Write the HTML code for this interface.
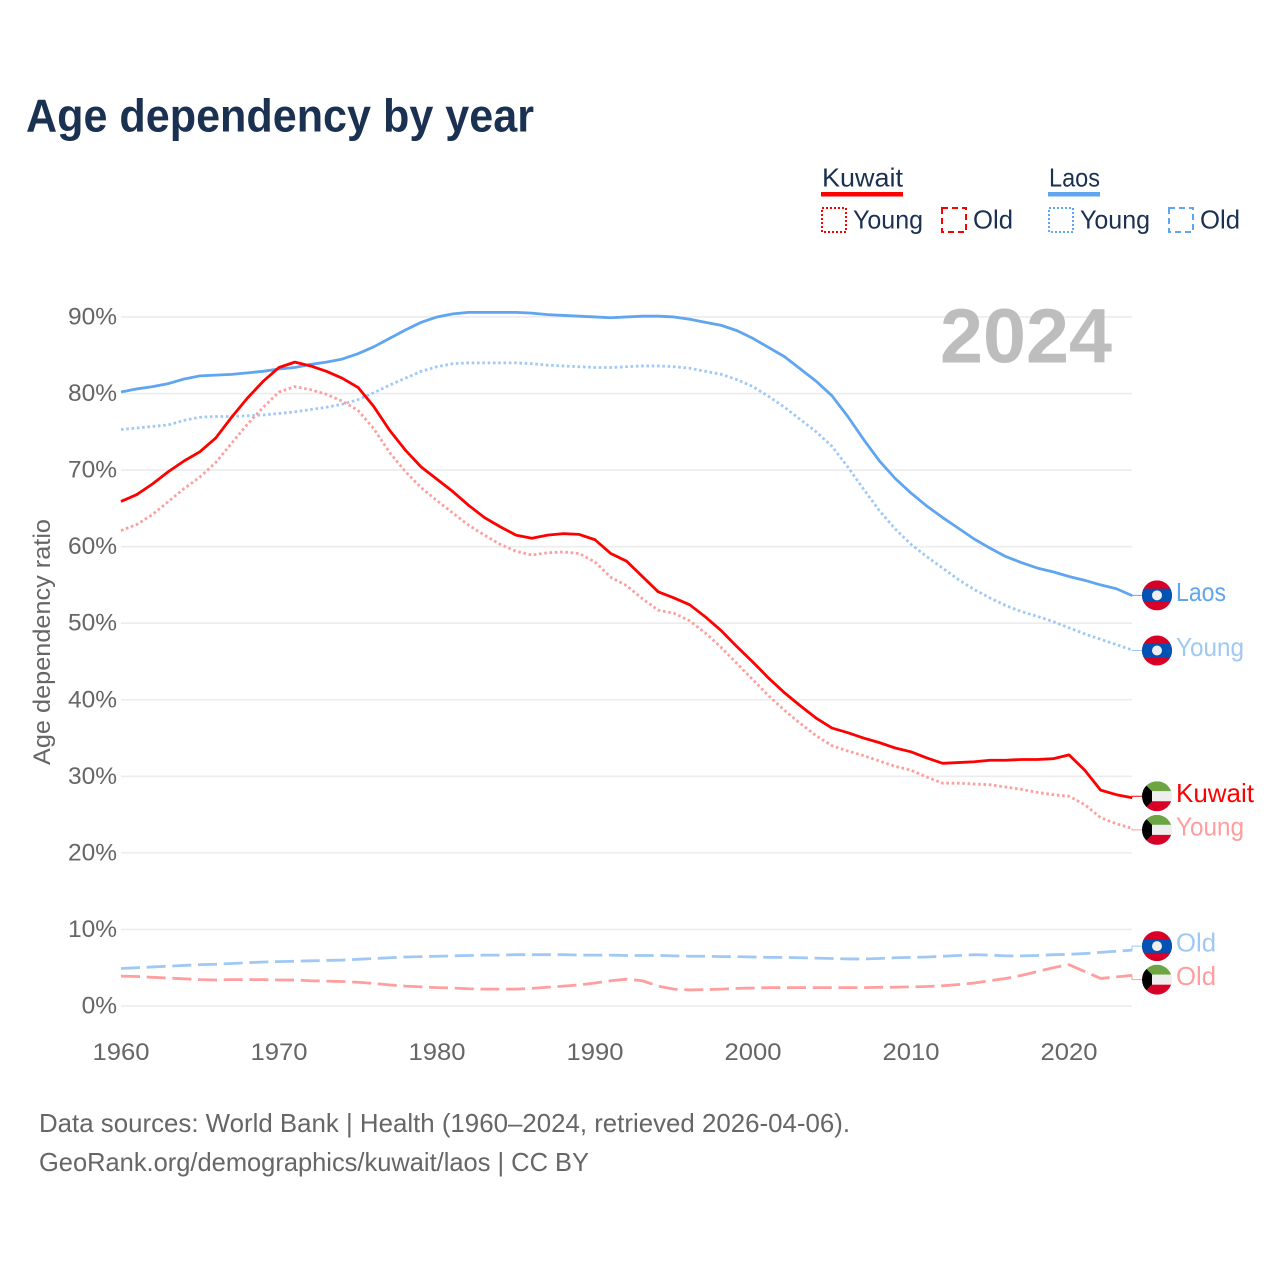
<!DOCTYPE html>
<html lang="en">
<head>
<meta charset="utf-8">
<title>Age dependency by year</title>
<style>
html,body{margin:0;padding:0;background:#fff;}
svg{display:block;font-family:"Liberation Sans",sans-serif;}
</style>
</head>
<body>
<svg id="chart" xmlns="http://www.w3.org/2000/svg" width="1280" height="1280" viewBox="0 0 1280 1280">
  <rect x="0" y="0" width="1280" height="1280" fill="#ffffff"/>
  <text x="26" y="131.5" font-size="46" font-weight="700" fill="#1a3152" textLength="508" lengthAdjust="spacingAndGlyphs">Age dependency by year</text>

  <g>
    <text x="822" y="186.5" font-size="26" fill="#1a3152" textLength="81" lengthAdjust="spacingAndGlyphs">Kuwait</text>
    <rect x="821" y="192" width="82" height="4.5" fill="#ff0000"/>
    <rect x="822" y="208" width="24" height="24" fill="none" stroke="#ff0000" stroke-width="2" stroke-dasharray="2 2"/>
    <text x="853" y="228.5" font-size="26" fill="#1a3152" textLength="70" lengthAdjust="spacingAndGlyphs">Young</text>
    <rect x="942" y="208" width="24" height="24" fill="none" stroke="#ff0000" stroke-width="2" stroke-dasharray="6 4"/>
    <text x="973" y="228.5" font-size="26" fill="#1a3152" textLength="40" lengthAdjust="spacingAndGlyphs">Old</text>

    <text x="1049" y="186.5" font-size="26" fill="#1a3152" textLength="51" lengthAdjust="spacingAndGlyphs">Laos</text>
    <rect x="1048" y="192" width="52" height="4.5" fill="#60a5f0"/>
    <rect x="1049" y="208" width="24" height="24" fill="none" stroke="#60a5f0" stroke-width="2" stroke-dasharray="2 2"/>
    <text x="1080" y="228.5" font-size="26" fill="#1a3152" textLength="70" lengthAdjust="spacingAndGlyphs">Young</text>
    <rect x="1169" y="208" width="24" height="24" fill="none" stroke="#60a5f0" stroke-width="2" stroke-dasharray="6 4"/>
    <text x="1200" y="228.5" font-size="26" fill="#1a3152" textLength="40" lengthAdjust="spacingAndGlyphs">Old</text>
  </g>

  <g id="grid"></g>
  <text x="940" y="362.5" font-size="77" font-weight="700" fill="#bdbdbd" textLength="172" lengthAdjust="spacingAndGlyphs">2024</text>
  <g id="yTicks"></g>
  <g id="xTicks"></g>
  <text transform="translate(50,642) rotate(-90)" text-anchor="middle" font-size="24" fill="#666666" textLength="246" lengthAdjust="spacingAndGlyphs">Age dependency ratio</text>

  <g id="series"></g>
  <g id="endLabels"></g>

  <text x="39" y="1132" font-size="26" fill="#666666" textLength="811" lengthAdjust="spacingAndGlyphs">Data sources: World Bank | Health (1960–2024, retrieved 2026-04-06).</text>
  <text x="39" y="1171" font-size="26" fill="#666666" textLength="550" lengthAdjust="spacingAndGlyphs">GeoRank.org/demographics/kuwait/laos | CC BY</text>
</svg>

<script>
const startYear = 1960;
const xTickYears = [1960, 1970, 1980, 1990, 2000, 2010, 2020];
const yTickValues = [0, 10, 20, 30, 40, 50, 60, 70, 80, 90];

const laosTotal = [
  80.2,80.6,80.9,81.3,81.9,82.3,82.4,82.5,82.7,82.9,
  83.2,83.4,83.8,84.1,84.5,85.2,86.1,87.2,88.3,89.3,
  90.0,90.4,90.6,90.6,90.6,90.6,90.5,90.3,90.2,90.1,
  90.0,89.9,90.0,90.1,90.1,90.0,89.7,89.3,88.9,88.2,
  87.2,86.0,84.8,83.2,81.6,79.7,77.0,74.0,71.2,68.9,
  67.0,65.3,63.8,62.4,61.0,59.8,58.7,57.9,57.2,56.7,
  56.1,55.6,55.0,54.5,53.6
];
const laosYoung = [
  75.3,75.5,75.7,75.9,76.5,76.9,77.0,77.0,77.1,77.2,
  77.4,77.6,77.9,78.2,78.6,79.2,80.1,81.1,82.0,82.9,
  83.5,83.9,84.0,84.0,84.0,84.0,83.9,83.7,83.6,83.5,
  83.4,83.4,83.5,83.6,83.6,83.5,83.3,82.9,82.5,81.8,
  80.9,79.6,78.2,76.6,75.0,73.1,70.4,67.5,64.7,62.3,
  60.3,58.7,57.2,55.7,54.4,53.3,52.3,51.5,50.9,50.2,
  49.4,48.6,47.9,47.2,46.5
];
const laosOld = [
  4.9,5.0,5.1,5.2,5.3,5.4,5.45,5.55,5.65,5.75,
  5.8,5.85,5.9,5.95,6.0,6.1,6.2,6.3,6.4,6.45,
  6.5,6.55,6.6,6.65,6.65,6.7,6.7,6.7,6.7,6.65,
  6.65,6.65,6.6,6.6,6.6,6.55,6.5,6.5,6.45,6.45,
  6.4,6.35,6.35,6.3,6.25,6.2,6.15,6.15,6.2,6.3,
  6.35,6.4,6.5,6.6,6.7,6.65,6.55,6.55,6.6,6.7,
  6.75,6.85,7.0,7.15,7.3
];
const kuwaitTotal = [
  65.9,66.8,68.2,69.8,71.2,72.4,74.2,76.9,79.4,81.6,
  83.4,84.1,83.6,82.9,82.0,80.8,78.3,75.2,72.6,70.4,
  68.8,67.2,65.4,63.8,62.6,61.5,61.1,61.5,61.7,61.6,
  60.9,59.1,58.1,56.1,54.1,53.3,52.4,50.8,49.0,46.9,
  44.9,42.8,40.9,39.2,37.6,36.3,35.7,35.0,34.4,33.7,
  33.2,32.4,31.7,31.8,31.9,32.1,32.1,32.2,32.2,32.3,
  32.8,30.8,28.2,27.6,27.2
];
const kuwaitYoung = [
  62.1,62.9,64.2,65.9,67.6,69.1,71.0,73.5,76.0,78.2,
  80.2,80.9,80.5,79.9,79.0,77.8,75.4,72.3,69.8,67.7,
  66.0,64.4,62.8,61.5,60.3,59.4,58.9,59.2,59.3,59.1,
  58.0,56.0,54.9,53.2,51.7,51.3,50.3,48.7,46.8,44.7,
  42.6,40.5,38.6,36.9,35.3,34.0,33.3,32.7,32.0,31.3,
  30.8,29.9,29.1,29.1,29.0,28.9,28.6,28.3,27.9,27.6,
  27.4,26.3,24.6,23.8,23.2
];
const kuwaitOld = [
  3.9,3.85,3.75,3.65,3.55,3.45,3.4,3.45,3.45,3.45,
  3.4,3.4,3.3,3.25,3.2,3.1,2.95,2.75,2.6,2.5,
  2.4,2.35,2.25,2.2,2.2,2.2,2.3,2.45,2.6,2.75,
  3.0,3.3,3.5,3.3,2.6,2.2,2.1,2.15,2.2,2.3,
  2.35,2.4,2.4,2.4,2.4,2.4,2.4,2.4,2.45,2.45,
  2.5,2.55,2.65,2.8,3.0,3.3,3.6,4.0,4.5,5.0,
  5.4,4.5,3.6,3.8,4.0
];

const NS = 'http://www.w3.org/2000/svg';
function xScale(year) { return 121 + (year - 1960) * 15.8; }
function yScale(value) { return 1006 - value * 7.656; }
function make(tag, attrs, parent) {
  const el = document.createElementNS(NS, tag);
  for (const k in attrs) el.setAttribute(k, attrs[k]);
  if (parent) parent.appendChild(el);
  return el;
}

const gridG = document.getElementById('grid');
const yG = document.getElementById('yTicks');
yTickValues.forEach(function (v) {
  const line = make('line', {x1: 121, x2: 1132, y1: yScale(v), y2: yScale(v), stroke: '#ececec', 'stroke-width': 1.6}, gridG);
  
  
  const t = make('text', {x: 117, y: yScale(v) + 7.5, 'text-anchor': 'end', 'font-size': 24.5, fill: '#666666'}, yG);
  
  
  t.textContent = v + '%';
});

const xG = document.getElementById('xTicks');
xTickYears.forEach(function (yr) {
  const t = make('text', {x: xScale(yr), y: 1060, 'text-anchor': 'middle', 'font-size': 24.5, fill: '#666666', textLength: 57, lengthAdjust: 'spacingAndGlyphs'}, xG);
  
  
  t.textContent = yr;
});

function drawSeries(values, color, dash, width, name) {
  const pts = values.map(function (v, i) { return xScale(startYear + i).toFixed(2) + ',' + yScale(v).toFixed(2); }).join(' ');
  const p = make('polyline', {points: pts, fill: 'none', stroke: color, 'stroke-width': width, 'stroke-linejoin': 'round', 'stroke-dasharray': dash}, document.getElementById('series'));
  
  
}
drawSeries(laosOld, '#9fc9f4', '19 6.7', 2.8, 'line-laos-old');
drawSeries(kuwaitOld, '#ff9e9e', '19 6.7', 2.8, 'line-kuwait-old');
drawSeries(laosYoung, '#9fc9f4', '2.6 2.7', 2.8, 'line-laos-young');
drawSeries(kuwaitYoung, '#ff9e9e', '2.6 2.7', 2.8, 'line-kuwait-young');
drawSeries(laosTotal, '#60a5f0', 'none', 2.8, 'line-laos-total');
drawSeries(kuwaitTotal, '#ff0000', 'none', 2.8, 'line-kuwait-total');

function drawFlag(parent, kind, cy, id) {
  const g = make('g', {transform: 'translate(1157,' + cy + ')'}, parent);
  
  
  const clip = make('clipPath', {id: id}, g);
  make('circle', {cx: 0, cy: 0, r: 15}, clip);
  const inner = make('g', {'clip-path': 'url(#' + id + ')'}, g);
  if (kind === 'laos') {
    make('rect', {x: -15, y: -15, width: 30, height: 30, fill: '#d80027'}, inner);
    make('rect', {x: -15, y: -6.7, width: 30, height: 13.4, fill: '#0052b4'}, inner);
    make('circle', {cx: 0, cy: 0, r: 5, fill: '#eeeeee'}, inner);
  } else {
    make('rect', {x: -15, y: -15, width: 30, height: 10, fill: '#6da544'}, inner);
    make('rect', {x: -15, y: -5, width: 30, height: 10, fill: '#eeeeee'}, inner);
    make('rect', {x: -15, y: 5, width: 30, height: 10, fill: '#d80027'}, inner);
    make('polygon', {points: '-15,-15 -5,-5 -5,5 -15,15', fill: '#000000'}, inner);
  }
}

function drawEnd(values, kind, text, color, labelColor, nudge, textW, idx) {
  const g = document.getElementById('endLabels');
  const last = yScale(values[values.length - 1]);
  const cy = last + nudge;
  const c = make('polyline', {points: '1132,' + last.toFixed(2) + ' 1132,' + cy.toFixed(2) + ' 1143,' + cy.toFixed(2), fill: 'none', stroke: color, 'stroke-width': 1}, g);
  
  
  drawFlag(g, kind, cy, 'flagclip' + idx);
  const t = make('text', {x: 1176, y: cy + 5.5, 'font-size': 26, fill: labelColor, textLength: textW, lengthAdjust: 'spacingAndGlyphs'}, g);
  
  
  t.textContent = text;
}
drawEnd(laosTotal, 'laos', 'Laos', '#60a5f0', '#60a5f0', -0.3, 50, 0);
drawEnd(laosYoung, 'laos', 'Young', '#9fc9f4', '#9fc9f4', 0.5, 68, 1);
drawEnd(kuwaitTotal, 'kuwait', 'Kuwait', '#ff0000', '#ff0000', -1.5, 78, 2);
drawEnd(kuwaitYoung, 'kuwait', 'Young', '#ff9e9e', '#ff9e9e', 1.5, 68, 3);
drawEnd(laosOld, 'laos', 'Old', '#9fc9f4', '#9fc9f4', -4, 40, 4);
drawEnd(kuwaitOld, 'kuwait', 'Old', '#ff9e9e', '#ff9e9e', 4.3, 40, 5);
</script>
</body>
</html>
